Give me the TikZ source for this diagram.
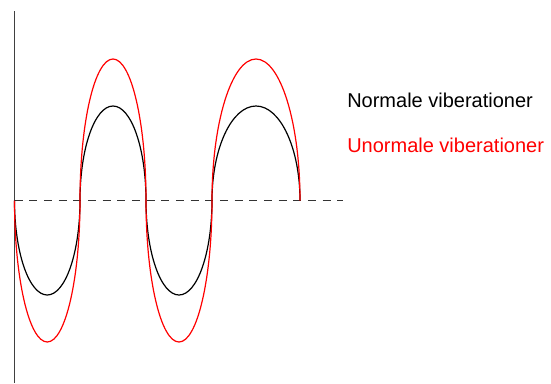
\documentclass[tikz,border=0pt]{standalone}
\usepackage{fontspec}
\setmainfont{Liberation Sans}
\begin{document}
\begin{tikzpicture}[x=0.75pt,y=-0.75pt,
  axisline/.style={line width=0.9pt,draw=black!75},
  baseline/.style={line width=0.9pt,draw=black!80,dash pattern=on 6pt off 5pt},
  normal/.style={line width=0.9pt,draw=black},
  abnormal/.style={line width=0.9pt,draw=red},
  lbl/.style={anchor=base west,inner sep=0pt,font=\fontsize{15pt}{18pt}\selectfont}]
\useasboundingbox (0,0) rectangle (551,383);
\coordinate (axtop) at (14.5,11);
\coordinate (axbot) at (14.5,383);
\coordinate (dl) at (14.5,200.5);
\coordinate (dr) at (343,200.5);
\draw[axisline] (axtop) -- (axbot);
\draw[baseline] (dl) -- (dr);
% black curve
\draw[normal] (14.5,200.5)
  arc[start angle=180,end angle=0,x radius=32.75,y radius=94.5]
  arc[start angle=180,end angle=360,x radius=33,y radius=94.5]
  arc[start angle=180,end angle=0,x radius=33,y radius=94.5]
  arc[start angle=180,end angle=360,x radius=44,y radius=94.5];
% red curve
\draw[abnormal] (14.5,200.5)
  arc[start angle=180,end angle=0,x radius=32.75,y radius=141.5]
  arc[start angle=180,end angle=360,x radius=33,y radius=141.5]
  arc[start angle=180,end angle=0,x radius=33,y radius=141.5]
  arc[start angle=180,end angle=360,x radius=44,y radius=141.5];
\node[lbl] (n) at (347,107.5) {Normale viberationer};
\node[lbl,text=red] (u) at (347,152.5) {Unormale viberationer};
\end{tikzpicture}
\end{document}
